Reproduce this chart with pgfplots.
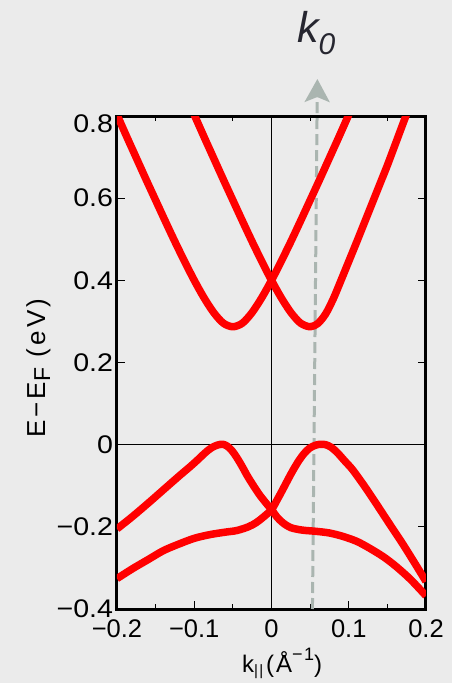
\documentclass[border=0pt]{standalone}
\usepackage{fontspec}
\setmainfont{Liberation Sans}
\newfontfamily\labelfont{Liberation Sans}[LetterSpace=12]
\newfontfamily\xlabelfont{Liberation Sans}[LetterSpace=8]
\usepackage{pgfplots}
\pgfplotsset{compat=1.18}
\usetikzlibrary{arrows.meta}
\definecolor{bg}{RGB}{235,235,235}
\definecolor{arrowgray}{RGB}{170,181,176}
\definecolor{kcol}{RGB}{38,38,48}
\begin{document}
\begin{tikzpicture}
\fill[bg] (-117pt,-74pt) rectangle (335pt,609pt);
\begin{axis}[
  at={(0pt,0pt)}, anchor=south west,
  scale only axis, width=309pt, height=493pt,
  xmin=-0.2, xmax=0.2, ymin=-0.4, ymax=0.8,
  clip mode=individual,
  axis line style={line width=3pt},
  tick style={line width=1.2pt, black},
  major tick length=8pt, minor tick length=5pt,
  xtick={-0.2,-0.1,0,0.1,0.2},
  xticklabels={−0.2,−0.1,0,0.1,0.2},
  minor xtick={-0.15,-0.05,0.05,0.15},
  ytick={-0.4,-0.2,0,0.2,0.4,0.6},
  yticklabels={−0.4,−0.2,0,0.2,0.4,0.6},
  extra y ticks={0.8}, extra y tick labels={0.8},
  extra y tick style={yticklabel style={yshift=-8pt}},
  ticklabel style={font=\fontsize{25.5}{25.5}\selectfont},
  xticklabel style={yshift=-7pt},
  yticklabel style={xscale=1.12},
  xlabel={\xlabelfont k\raisebox{-3pt}{\fontsize{15}{15}\selectfont ||}\hspace{3pt}(Å\raisebox{12pt}{\fontsize{18}{18}\selectfont −1})},
  xlabel style={at={(axis description cs:0.4045,-0.1278)}, anchor=base west, inner sep=0pt, font=\fontsize{24}{24}\selectfont},
  ylabel={\labelfont E−E\raisebox{-5pt}{\fontsize{23}{23}\selectfont F} (eV)},
  ylabel style={at={(axis description cs:-0.233,0.3469)}, anchor=base west, inner sep=0pt, font=\fontsize{26}{26}\selectfont},
]
\draw[black, line width=1.1pt] (axis cs:0,-0.4) -- (axis cs:0,0.8);
\draw[black, line width=1.1pt] (axis cs:-0.2,0) -- (axis cs:0.2,0);
\draw[arrowgray, line width=3pt, dash pattern=on 11pt off 5pt, -{Stealth[length=23pt,width=25pt,inset=5pt]}] (axis cs:0.053,-0.4) -- (axis cs:0.0594,0.89);
% conduction band A
\addplot[red, line width=7.5pt, smooth, line join=round] coordinates {
(-0.21,0.845) (-0.2,0.803) (-0.1875,0.75) (-0.175,0.698) (-0.1625,0.646) (-0.15,0.595) (-0.1375,0.544) (-0.125,0.494) (-0.1125,0.446) (-0.1,0.400) (-0.0875,0.358) (-0.075,0.322) (-0.0625,0.296) (-0.05,0.287) (-0.0375,0.296) (-0.025,0.322) (-0.0125,0.358) (0,0.400) (0.0125,0.446) (0.025,0.494) (0.0375,0.544) (0.05,0.595) (0.0625,0.646) (0.075,0.698) (0.0875,0.75) (0.1,0.803) (0.11,0.845)
};
% conduction band B
\addplot[red, line width=7.5pt, smooth, line join=round] coordinates {
(-0.11,0.845) (-0.1,0.803) (-0.0875,0.75) (-0.075,0.698) (-0.0625,0.646) (-0.05,0.595) (-0.0375,0.544) (-0.025,0.494) (-0.0125,0.446) (0,0.400) (0.0125,0.358) (0.025,0.322) (0.0375,0.296) (0.05,0.287) (0.06,0.295) (0.07,0.318) (0.08,0.355) (0.09,0.400) (0.1,0.446) (0.11,0.492) (0.12,0.539) (0.13,0.586) (0.14,0.633) (0.15,0.68) (0.16,0.73) (0.175,0.805) (0.185,0.85)
};
% valence band C
\addplot[red, line width=7.5pt, smooth, line join=round] coordinates {
(-0.2,-0.205) (-0.18,-0.175) (-0.16,-0.143) (-0.14,-0.11) (-0.12,-0.077) (-0.105,-0.053) (-0.095,-0.036) (-0.086,-0.02) (-0.078,-0.008) (-0.07,-0.001) (-0.063,0.001) (-0.057,-0.004) (-0.051,-0.015) (-0.045,-0.031) (-0.038,-0.053) (-0.03,-0.08) (-0.017,-0.118) (-0.008,-0.14) (0,-0.158) (0.007,-0.176) (0.0146,-0.19) (0.025,-0.202) (0.04,-0.208) (0.058,-0.211) (0.075,-0.215) (0.092,-0.223) (0.11,-0.235) (0.126,-0.251) (0.145,-0.273) (0.161,-0.296) (0.18,-0.328) (0.2,-0.368)
};
% valence band D
\addplot[red, line width=7.5pt, smooth, line join=round] coordinates {
(-0.2,-0.326) (-0.18,-0.302) (-0.16,-0.28) (-0.14,-0.258) (-0.12,-0.242) (-0.1,-0.228) (-0.08,-0.219) (-0.06,-0.213) (-0.045,-0.209) (-0.03,-0.2) (-0.02,-0.19) (-0.011,-0.177) (0,-0.158) (0.008,-0.132) (0.0146,-0.109) (0.025,-0.072) (0.034,-0.043) (0.042,-0.022) (0.049,-0.009) (0.056,-0.002) (0.063,0.001) (0.07,0.0) (0.077,-0.006) (0.085,-0.019) (0.095,-0.04) (0.105,-0.061) (0.12,-0.1) (0.135,-0.142) (0.15,-0.185) (0.169,-0.239) (0.185,-0.287) (0.2,-0.333)
};
\end{axis}
\node[anchor=base west, inner sep=0pt, text=kcol] at (180pt,566pt) {\fontsize{43}{43}\selectfont\itshape k\raisebox{-12pt}{\fontsize{30}{30}\selectfont 0}};
\end{tikzpicture}
\end{document}
